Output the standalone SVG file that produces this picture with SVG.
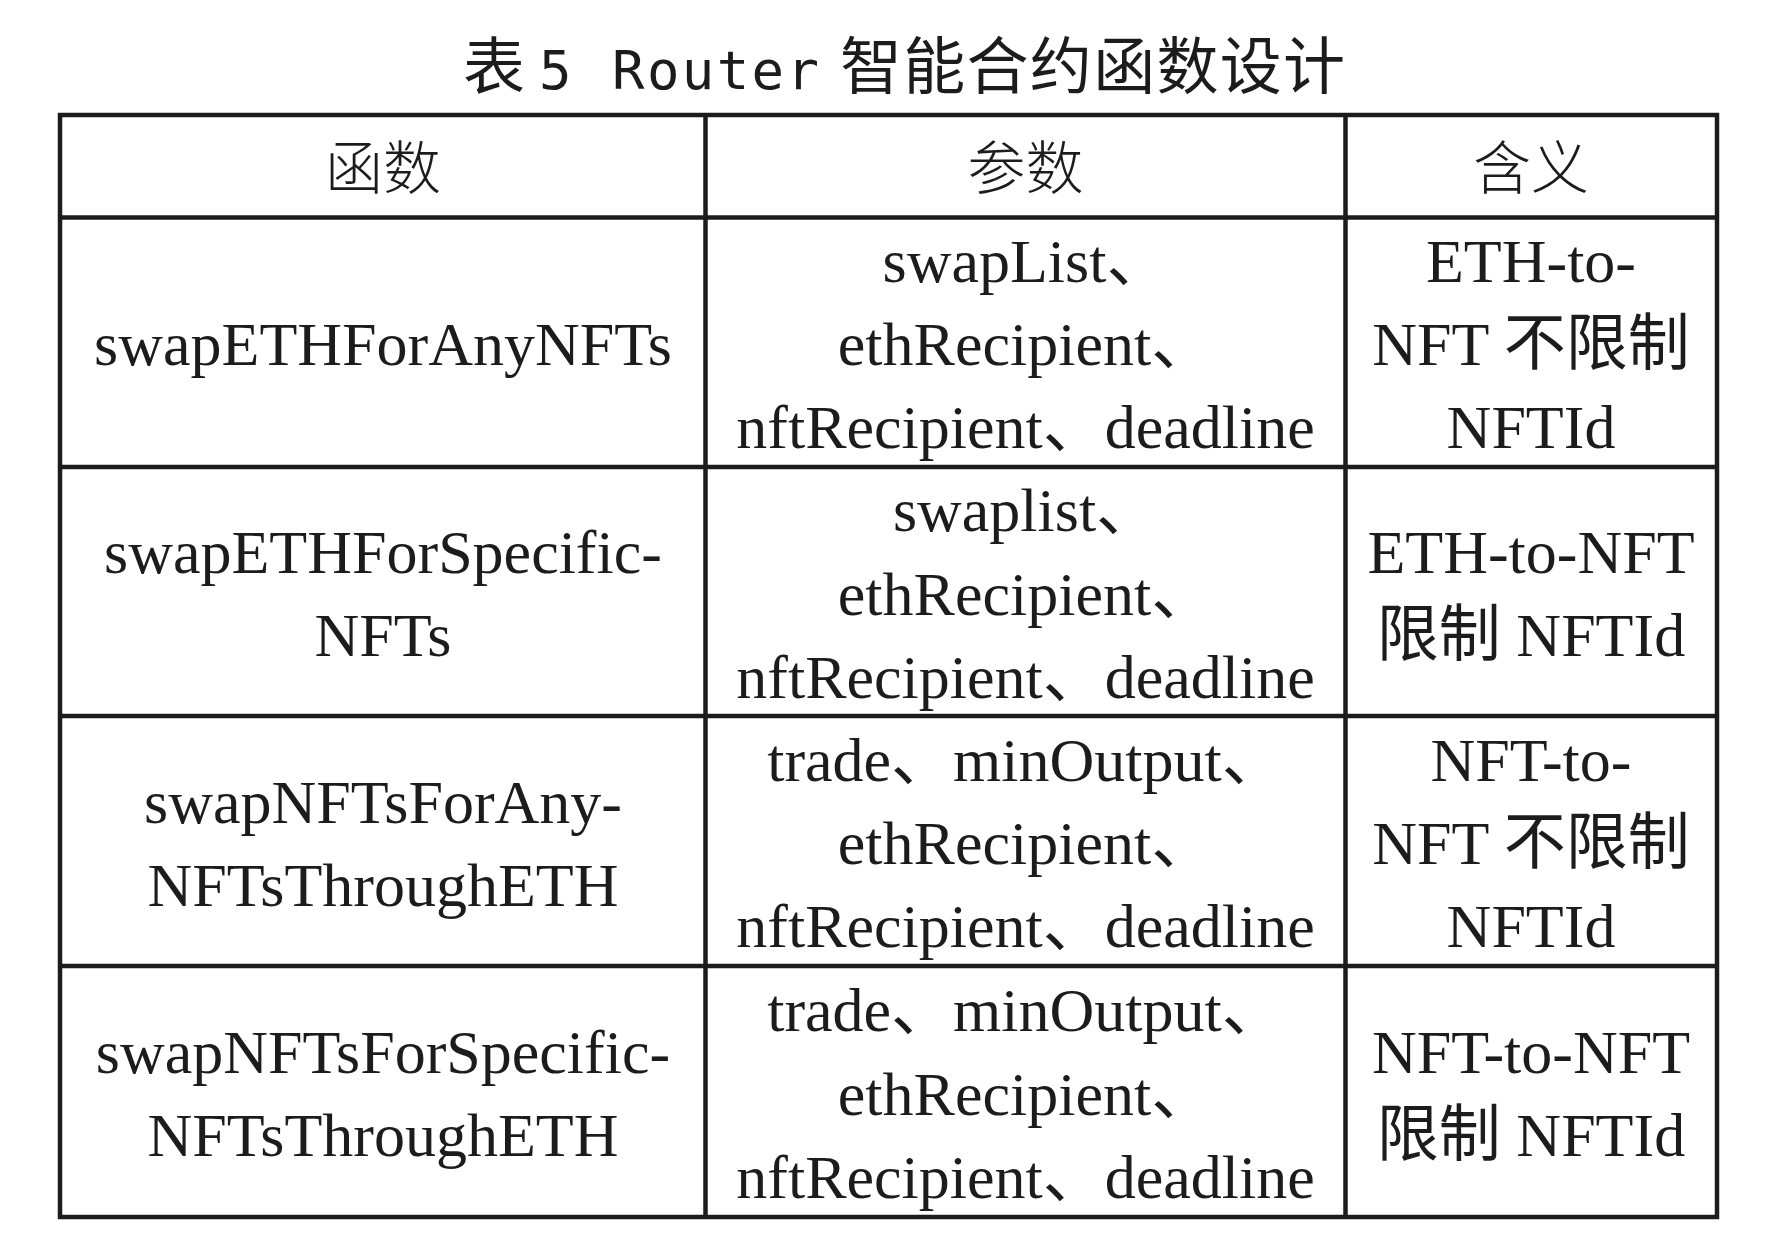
<svg xmlns="http://www.w3.org/2000/svg" width="1777" height="1241" viewBox="0 0 1777 1241">
<style>
.title{font-family:"Noto Sans CJK SC","Liberation Sans",sans-serif;font-size:62px;fill:#1c1c1c}
.tl{font-family:"DejaVu Sans Mono","Liberation Mono",monospace;font-size:54px;fill:#1c1c1c}
.hd{font-family:"Liberation Serif","Noto Sans CJK SC",serif;font-size:58px;fill:#1c1c1c;text-anchor:middle;font-weight:300}
.c{font-family:"Liberation Serif","Noto Sans CJK SC",serif;font-size:62px;fill:#1c1c1c;text-anchor:middle}
.hl{stroke:#1c1c1c;stroke-width:4.5;fill:none}
.vl{stroke:#1c1c1c;stroke-width:4.5;fill:none}
</style>
<rect width="1777" height="1241" fill="#ffffff"/>
<g id="title">
<text class="title" x="463" y="89">表</text>
<text class="tl" x="539" y="89">5</text>
<text class="tl" x="612" y="89" textLength="207" lengthAdjust="spacing">Router</text>
<text class="title" x="840" y="89" textLength="505" lengthAdjust="spacing">智能合约函数设计</text>
</g>
<g id="grid">
<rect class="hl" x="60" y="115" width="1657" height="1102"/>
<line class="hl" x1="60" y1="217.5" x2="1717" y2="217.5"/>
<line class="hl" x1="60" y1="467" x2="1717" y2="467"/>
<line class="hl" x1="60" y1="716" x2="1717" y2="716"/>
<line class="hl" x1="60" y1="966" x2="1717" y2="966"/>
<line class="vl" x1="705.5" y1="115" x2="705.5" y2="1217"/>
<line class="vl" x1="1345.5" y1="115" x2="1345.5" y2="1217"/>
</g>
<g id="header">
<text class="hd" x="383" y="189">函数</text>
<text class="hd" x="1025.5" y="189">参数</text>
<text class="hd" x="1531" y="189">含义</text>
</g>
<g id="row1">
<text class="c" x="383" y="365">swapETHForAnyNFTs</text>
<text class="c" x="1025.5" y="282">swapList、</text>
<text class="c" x="1025.5" y="365">ethRecipient、</text>
<text class="c" x="1025.5" y="448">nftRecipient、deadline</text>
<text class="c" x="1531" y="282">ETH-to-</text>
<text class="c" x="1531" y="365">NFT 不限制</text>
<text class="c" x="1531" y="448">NFTId</text>
</g>
<g id="row2">
<text class="c" x="383" y="573">swapETHForSpecific-</text>
<text class="c" x="383" y="656">NFTs</text>
<text class="c" x="1025.5" y="531">swaplist、</text>
<text class="c" x="1025.5" y="614.5">ethRecipient、</text>
<text class="c" x="1025.5" y="698">nftRecipient、deadline</text>
<text class="c" x="1531" y="573">ETH-to-NFT</text>
<text class="c" x="1531" y="656">限制 NFTId</text>
</g>
<g id="row3">
<text class="c" x="383" y="822.5">swapNFTsForAny-</text>
<text class="c" x="383" y="905.5">NFTsThroughETH</text>
<text class="c" x="1025.5" y="781">trade、minOutput、</text>
<text class="c" x="1025.5" y="864">ethRecipient、</text>
<text class="c" x="1025.5" y="947">nftRecipient、deadline</text>
<text class="c" x="1531" y="781">NFT-to-</text>
<text class="c" x="1531" y="864">NFT 不限制</text>
<text class="c" x="1531" y="947">NFTId</text>
</g>
<g id="row4">
<text class="c" x="383" y="1073">swapNFTsForSpecific-</text>
<text class="c" x="383" y="1156">NFTsThroughETH</text>
<text class="c" x="1025.5" y="1031">trade、minOutput、</text>
<text class="c" x="1025.5" y="1114.5">ethRecipient、</text>
<text class="c" x="1025.5" y="1198">nftRecipient、deadline</text>
<text class="c" x="1531" y="1073">NFT-to-NFT</text>
<text class="c" x="1531" y="1156">限制 NFTId</text>
</g>
</svg>
